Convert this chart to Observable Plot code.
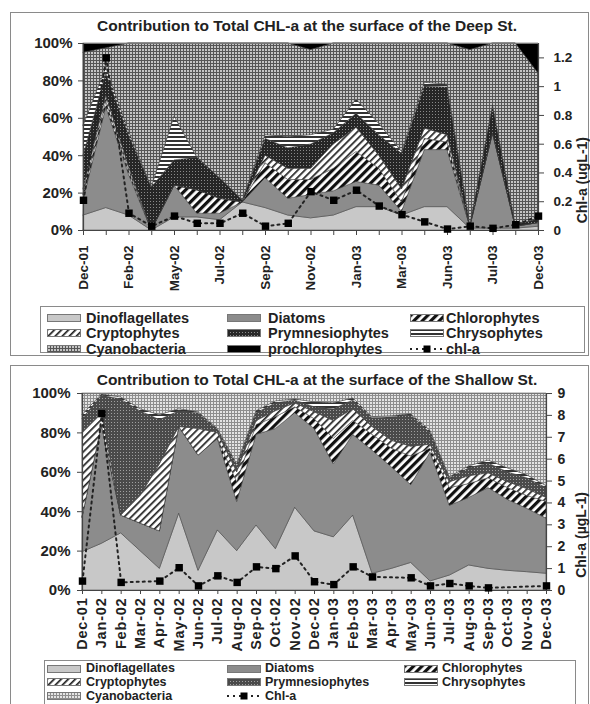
<!DOCTYPE html>
<html><head><meta charset="utf-8">
<script src="https://cdn.jsdelivr.net/npm/d3@7"></script>
<script src="https://cdn.jsdelivr.net/npm/@observablehq/plot@0.6"></script>
<style>
body{margin:0;background:#fff;}
#page{position:relative;width:590px;height:704px;overflow:hidden;font-family:"Liberation Sans",Arial,sans-serif;font-weight:bold;color:#222;}
.panel{position:absolute;border:1.5px solid #8a8a8a;box-sizing:border-box;}
.title{position:absolute;font-size:15.5px;line-height:18px;white-space:nowrap;transform:translateX(-50%);}
.chart{position:absolute;left:0;}
.legend{position:absolute;border:1.5px solid #8a8a8a;box-sizing:border-box;background:#fff;}
.li{position:absolute;height:14px;white-space:nowrap;}
.li svg{position:absolute;left:0;}
.li span{position:absolute;top:0;}
</style></head>
<body>
<svg width="0" height="0" style="position:absolute">
<defs>
<pattern id="pChl" width="6" height="6" patternUnits="userSpaceOnUse" patternTransform="rotate(45)">
<rect width="6" height="6" fill="#fff"/><rect width="3.2" height="6" fill="#111"/></pattern>
<pattern id="pCry" width="5" height="5" patternUnits="userSpaceOnUse" patternTransform="rotate(45)">
<rect width="5" height="5" fill="#fff"/><rect width="1.7" height="5" fill="#222"/></pattern>
<pattern id="pPry" width="3" height="3" patternUnits="userSpaceOnUse">
<rect width="3" height="3" fill="#262626"/><rect width="1" height="1" fill="#8a8a8a"/></pattern>
<pattern id="pPry2" width="3" height="3" patternUnits="userSpaceOnUse">
<rect width="3" height="3" fill="#4a4a4a"/><rect width="1" height="1" fill="#a0a0a0"/></pattern>
<pattern id="pChr" width="4" height="4" patternUnits="userSpaceOnUse">
<rect width="4" height="4" fill="#fff"/><rect width="4" height="2" fill="#333"/></pattern>
<pattern id="pCya" width="3" height="3" patternUnits="userSpaceOnUse">
<rect width="3" height="3" fill="#c4c4c4"/><rect width="3" height="1" fill="#555"/><rect width="1" height="3" fill="#555"/></pattern>
<pattern id="pCya2" width="3" height="3" patternUnits="userSpaceOnUse">
<rect width="3" height="3" fill="#e4e4e4"/><rect width="3" height="1" fill="#8e8e8e"/><rect width="1" height="3" fill="#8e8e8e"/></pattern>
</defs></svg>
<div id="page">
<div class="panel" style="left:10px;top:12px;width:579px;height:344px"></div>
<div class="panel" style="left:10px;top:365px;width:579px;height:360px"></div>
<div class="title" style="left:307px;top:17px">Contribution to Total CHL-a at the surface of the Deep St.</div>
<div class="title" style="left:317px;top:371px">Contribution to Total CHL-a at the surface of the Shallow St.</div>
<div id="chart1" class="chart" style="top:0px"></div>
<div id="chart2" class="chart" style="top:350px"></div>
<div class="legend" style="left:40px;top:306px;width:545px;height:47px"></div>
<div class="legend" style="left:44px;top:660px;width:532px;height:60px"></div>
</div>
<script>
// ---------- Deep station (top) ----------
const deepLabels = ["Dec-01","","Feb-02","","May-02","","Jul-02","","Sep-02","","Nov-02","","Jan-03","","Mar-03","","Jun-03","","Jul-03","","Dec-03"];
const deepDino  = [8,12,8,0,7,7,5.5,15,12,8,6.5,8,12.5,12.5,8,12.5,12.5,1,1,1,2];
const deepDiat  = [8,54,22,0,17,2,3.5,0,16,9,12.5,13,13.5,11.5,2,30.5,30.5,1,51,1,2];
const deepChlor = [3,3,2,0,0,12.5,8,0,8,10,8,12,16,9,5,6,4,0,0,0,0];
const deepCrypt = [3,3,2,0,0,0,0,0,4,6,6,13,13,7,7,5.5,4,0,0,0,0];
const deepPrym  = [18,12,17,23,13.5,17.5,11,1,9,11,13,6,7.5,11,19,22.5,25.5,1,15,1,2];
const deepChrys = [16,3,2,0,23.5,0,0,0,2,6,5,2,7.5,6,1,2,1.5,0,0,0,0];
const deepCyano = [39,10.5,47,77,39,61,72,84,49,50,45.5,46,30,43,58,21,22,93.5,33,97,78];
const deepProch = [5,2.5,0,0,0,0,0,0,0,0,3.5,0,0,0,0,0,0,3.5,0,0,16];
const deepChl   = [0.21,1.20,0.12,0.03,0.10,0.05,0.05,0.12,0.03,0.05,0.27,0.21,0.28,0.17,0.11,0.06,0.01,0.03,0.015,0.04,0.10];

// ---------- Shallow station (bottom) ----------
const shalLabels = ["Dec-01","Jan-02","Feb-02","Mar-02","Apr-02","May-02","Jun-02","Jul-02","Aug-02","Sep-02","Oct-02","Nov-02","Dec-02","Jan-03","Feb-03","Mar-03","Apr-03","May-03","Jun-03","Jul-03","Aug-03","Sep-03","Oct-03","Nov-03","Dec-03"];
const shalDino  = [19.5,23.7,29,20,11,39,10,30.5,20,33,21,42,30,27,38,8.5,11,14,4.6,7.6,12.7,11,10,9.3,8.5];
const shalDiat  = [17.5,60.3,9,14,19,44,58.5,46.5,25,46,61,48,52,37,41,62.5,51.5,39.5,65.4,35.4,34.3,41,36,32.2,28];
const shalChlor = [0,0,0,0,0,0,0,0,10,5,6,3,5,13,7,8,9.5,14.5,2,9,7,5,6,6.5,8.5];
const shalCrypt = [43,6,0,14,34,0,13.5,3,5,2,3,2,3.5,9,6,4,4,5,2,3,4,2.5,3,3.5,2];
const shalPrym  = [7,9,59,43,22.5,8,8,1.5,3,4,4,1.5,2.5,6,4.5,4.5,12,16,6,2,4,5,5,5.5,5];
const shalChrys = [2,0.5,1,1,2.5,1,0.5,0.5,1,1,1,0.5,2.5,3,1,0.5,0.5,0.5,1,0.5,1,1.5,2,1.5,1];
const shalCyano = [11,0.5,2,8,11,8,9.5,18,36,9,4,3,4.5,5,2.5,12,11.5,10.5,19,42.5,37,34,38,41.5,47];
const shalChl   = [0.43,8.08,0.37,null,0.43,1.04,0.21,0.67,0.37,1.08,1.0,1.58,0.4,0.27,1.08,0.62,null,0.58,0.21,0.32,0.21,0.12,null,null,0.21];

const deepNames = ["Dinoflagellates","Diatoms","Chlorophytes","Cryptophytes","Prymnesiophytes","Chrysophytes","Cyanobacteria","prochlorophytes"];
const shalNames = ["Dinoflagellates","Diatoms","Chlorophytes","Cryptophytes","Prymnesiophytes","Chrysophytes","Cyanobacteria"];
const deepFills = ["#c8c8c8","#8c8c8c","url(#pChl)","url(#pCry)","url(#pPry)","url(#pChr)","url(#pCya)","#000"];
const shalFills = ["#c8c8c8","#8c8c8c","url(#pChl)","url(#pCry)","url(#pPry2)","url(#pChr)","url(#pCya2)"];

const FONT = "'Liberation Sans', Arial, sans-serif";

function makeChart(cfg) {
  const n = cfg.labels.length;
  const rows = [];
  cfg.names.forEach((s, k) => cfg.series[k].forEach((v, i) => rows.push({i, s, v})));
  const chl = cfg.chl.map((v, i) => ({i, v})).filter(d => d.v != null);
  const ys = v => v / cfg.chlMax * 100;
  return Plot.plot({
    width: 590, height: cfg.height,
    marginLeft: cfg.ml, marginRight: cfg.mr, marginTop: cfg.mt, marginBottom: cfg.mb,
    x: {domain: [0, n - 1], axis: null},
    y: {domain: [0, 100], axis: null},
    color: {type: "ordinal", domain: cfg.names, range: cfg.fills},
    style: {fontFamily: FONT, fontWeight: "bold", color: "#222", background: "transparent", overflow: "visible"},
    marks: [
      Plot.areaY(rows, {x: "i", y: "v", z: "s", fill: "s", order: cfg.names, stroke: "#3a3a3a", strokeWidth: 0.5}),
      Plot.frame({stroke: "#777"}),
      Plot.ruleX([0], {stroke: "#444", strokeWidth: 1.2}),
      Plot.ruleX([n - 1], {stroke: "#444", strokeWidth: 1.2}),
      Plot.ruleY([0], {stroke: "#444", strokeWidth: 1.2}),
      Plot.axisY([0, 20, 40, 60, 80, 100], {anchor: "left", label: null, tickFormat: d => d + "%", tickSize: 5, tickPadding: cfg.lpad, fontSize: 15, stroke: "#444"}),
      Plot.axisY(cfg.chlTicks.map(ys), {anchor: "right", label: null, tickFormat: d => String(Math.round(d * cfg.chlMax / 100 * 10) / 10), tickSize: 5, tickPadding: cfg.rpad, fontSize: cfg.rfont, stroke: "#444"}),
      Plot.axisX(d3.range(n), {anchor: "bottom", label: null, tickFormat: i => cfg.labels[i], tickRotate: -90, tickSize: cfg.xts, tickPadding: cfg.xpad, fontSize: cfg.xfont, stroke: "#444"}),
      Plot.line(chl, {x: "i", y: d => ys(d.v), stroke: "#222", strokeWidth: 2, strokeDasharray: "2,4"}),
      Plot.dot(chl, {x: "i", y: d => ys(d.v), symbol: "square", fill: "#000", stroke: "none", r: 4.2}),
      Plot.text([cfg.rightLabel], {text: d => d, frameAnchor: "right", dx: cfg.rlDx, rotate: -90, fontSize: 14, fontWeight: "bold", fill: "#222"})
    ]
  });
}

const c1 = makeChart({
  labels: deepLabels, names: deepNames, fills: deepFills,
  series: [deepDino, deepDiat, deepChlor, deepCrypt, deepPrym, deepChrys, deepCyano, deepProch],
  chl: deepChl, chlMax: 1.3, chlTicks: [0, 0.2, 0.4, 0.6, 0.8, 1, 1.2],
  height: 300, ml: 83, mr: 52, mt: 43, mb: 70, lpad: 6, rpad: 10, rfont: 13.5,
  xts: 5, xpad: 10, xfont: 13.5, rightLabel: "Chl-a (ugL-1)", rlDx: 44
});
document.getElementById("chart1").appendChild(c1);

const c2 = makeChart({
  labels: shalLabels, names: shalNames, fills: shalFills,
  series: [shalDino, shalDiat, shalChlor, shalCrypt, shalPrym, shalChrys, shalCyano],
  chl: shalChl, chlMax: 9, chlTicks: [0, 1, 2, 3, 4, 5, 6, 7, 8, 9],
  height: 320, ml: 82, mr: 44, mt: 43, mb: 80, lpad: 7, rpad: 6, rfont: 14,
  xts: 4, xpad: 3, xfont: 14.5, rightLabel: "Chl-a (\u00b5gL-1)", rlDx: 35
});
document.getElementById("chart2").appendChild(c2);
c2.querySelectorAll('g[aria-label="x-axis tick label"] text').forEach(t => t.style.letterSpacing = "0.8px");

// ---------- legends ----------
const page = document.getElementById("page");
function swatch(fill, top) {
  return `<svg width="34" height="8" style="top:${top}px"><rect x="0.5" y="0.5" width="33" height="7" fill="${fill}" stroke="#777"/></svg>`;
}
function lineSwatch(top) {
  return `<svg width="34" height="10" style="top:${top - 1}px"><line x1="0" y1="5" x2="34" y2="5" stroke="#222" stroke-width="2" stroke-dasharray="2,4"/><rect x="13.5" y="1.5" width="7" height="7" fill="#000"/></svg>`;
}
function addLegend(items, colX, textX, rowY, fs, lh) {
  items.forEach((it, k) => {
    const c = k % 3, r = Math.floor(k / 3);
    const d = document.createElement("div");
    d.className = "li";
    d.style.left = colX[c] + "px";
    d.style.top = (rowY[r] - lh / 2) + "px";
    d.style.height = lh + "px";
    d.style.fontSize = fs + "px";
    d.style.lineHeight = lh + "px";
    const st = lh / 2 - 4;
    d.innerHTML = (it.line ? lineSwatch(st) : swatch(it.fill, st)) + `<span style="left:${textX[c] - colX[c]}px">${it.name}</span>`;
    page.appendChild(d);
  });
}
const deepLegend = deepNames.map((name, k) => ({name, fill: deepFills[k]})).concat([{name: "chl-a", line: true}]);
addLegend(deepLegend, [47, 227, 410], [86, 268, 446], [317.5, 333.2, 349], 14.5, 14);
const shalLegend = shalNames.map((name, k) => ({name, fill: shalFills[k]})).concat([{name: "Chl-a", line: true}]);
addLegend(shalLegend, [47, 227, 404], [86, 265, 442], [668.5, 682.3, 696], 12.5, 13);
</script>
</body></html>
